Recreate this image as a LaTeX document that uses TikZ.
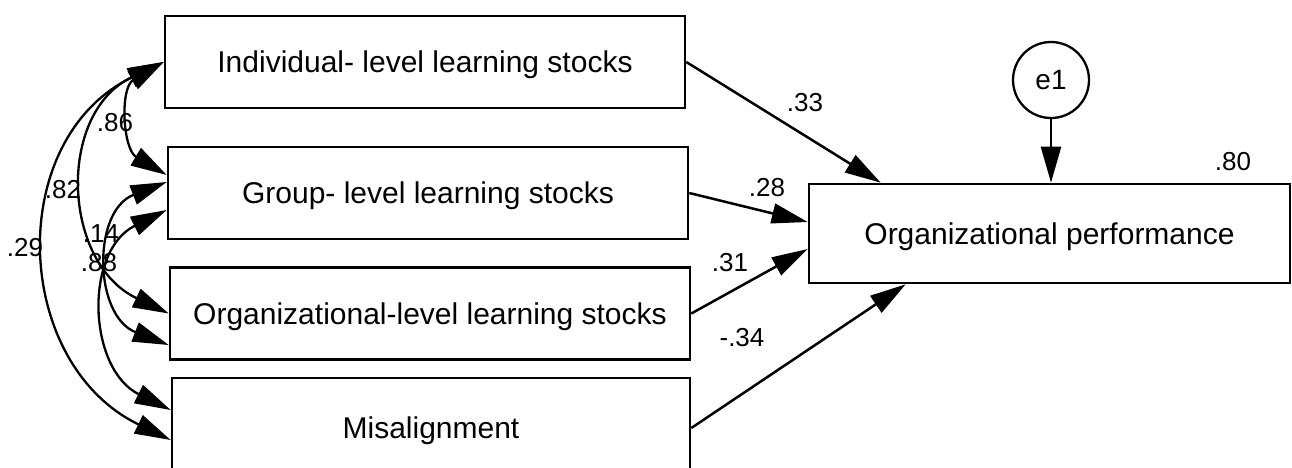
\documentclass[tikz,border=0pt]{standalone}
\usepackage{fontspec}
\setmainfont{Liberation Sans}
\usetikzlibrary{arrows.meta,calc}
\begin{document}
\begin{tikzpicture}[x=1pt,y=-1pt,
  box/.style={draw, line width=2.6pt, inner sep=0pt, minimum width=520pt,
    minimum height=92pt, text depth=0pt, font=\fontsize{30}{36}\selectfont},
  errnode/.style={draw, circle, line width=2.3pt, inner sep=0pt,
    minimum size=76pt, font=\fontsize{28}{32}\selectfont},
  lbl/.style={inner sep=0pt, font=\fontsize{26}{30}\selectfont},
  head/.tip={Triangle[length=36pt,width=20pt]},
  reg/.style={line width=2.5pt, -head},
  cov/.style={line width=2.3pt, head-head}]

\useasboundingbox (0,0) rectangle (1292,467);
\clip (0,0) rectangle (1292,467);

% observed variables
\node[box] (ind) at (425,62)    {Individual- level learning stocks};
\node[box] (grp) at (428,193)   {Group- level learning stocks};
\node[box] (org) at (430,313.5) {Organizational-level learning stocks};
\node[box, minimum width=518pt, minimum height=100pt] (mis) at (431,428) {Misalignment};
\node[box, minimum width=481pt, minimum height=99pt] (perf) at (1049.5,233.5)
  {Organizational performance};
\node[errnode] (e1) at (1051,80) {e1};

% attachment points of the covariance arcs
\coordinate (gA) at ($(grp.west)+(0,-18)$);
\coordinate (gB) at ($(grp.west)+(0,-11)$);
\coordinate (gC) at ($(grp.west)+(0,17)$);
\coordinate (oA) at (org.west);
\coordinate (oB) at ($(org.west)+(0,31.5)$);
\coordinate (mA) at ($(mis.west)+(0,-18)$);
\coordinate (mB) at ($(mis.west)+(0,12)$);

% regression paths
\draw[reg] (ind.east) -- ($(perf.north west)+(73,0)$);
\draw[reg] (grp.east) -- ($(perf.west)+(0,-11.5)$);
\draw[reg] (org.east) -- ($(perf.west)+(0,15.5)$);
\draw[reg] (mis.east) -- ($(perf.south west)+(98,0)$);
\draw[reg] (e1.south) -- (e1.south |- perf.north);

% covariances
\draw[cov] (ind.west) .. controls ($(ind.west)+(-44,26)$) and ($(gA)+(-44,-26)$) .. (gA);
\draw[cov] (ind.west) .. controls ($(ind.west)+(-107,51)$) and ($(oA)+(-107,-51)$) .. (oA);
\draw[cov] (ind.west) .. controls ($(ind.west)+(-159,77)$) and ($(mB)+(-159,-77)$) .. (mB);
\draw[cov] (gB) .. controls ($(gB)+(-75,29)$) and ($(oB)+(-75,-29)$) .. (oB);
\draw[cov] (gC) .. controls ($(gC)+(-83,41)$) and ($(mA)+(-83,-41)$) .. (mA);

% estimates
\node[lbl] (l33) at (805,103) {.33};
\node[lbl] (l28) at (767,188) {.28};
\node[lbl] (l31) at (730,263) {.31};
\node[lbl] (l34) at (742,338) {-.34};
\node[lbl] (l80) at (1233,162) {.80};
\node[lbl] (l86) at (115,123) {.86};
\node[lbl] (l82) at (63,190) {.82};
\node[lbl] (l29) at (25,248) {.29};
\node[lbl] (l14) at (101,234) {.14};
\node[lbl] (l88) at (99,263) {.88};
\end{tikzpicture}
\end{document}
